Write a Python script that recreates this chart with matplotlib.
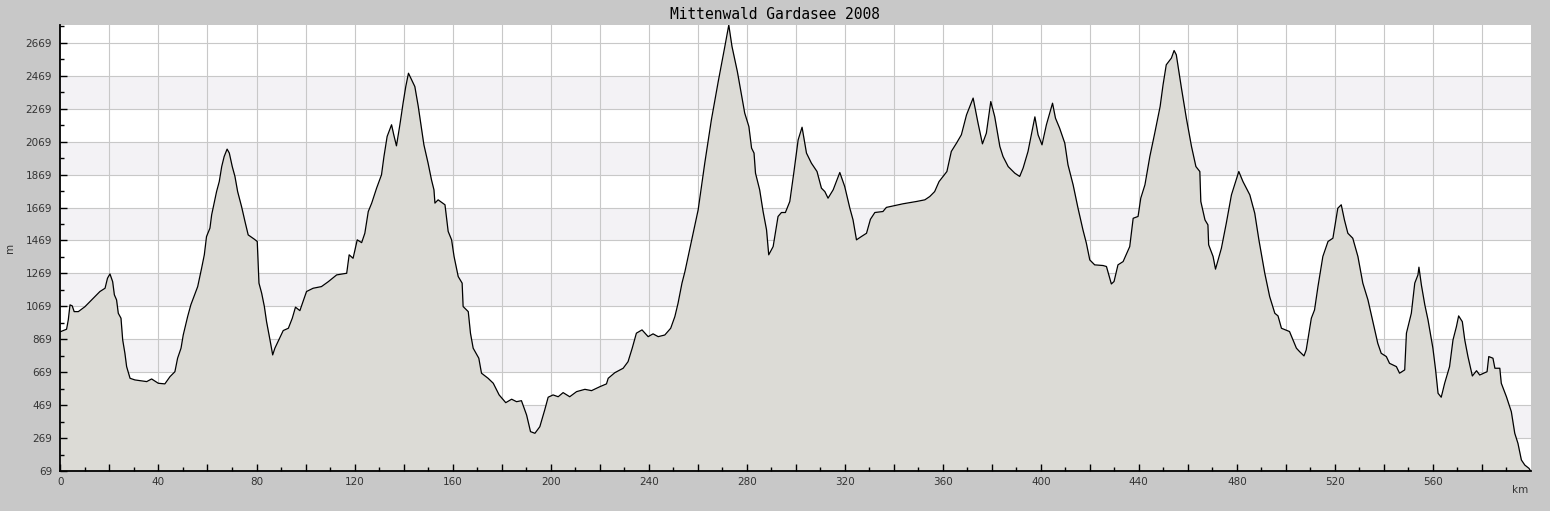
import numpy as np
from matplotlib import pyplot as plt

TITLE = 'Mittenwald Gardasee 2008'

# distance along the route (km) and elevation (m)
km = [
    0, 2.5, 3.2, 3.9, 4.8, 5.6, 7.3, 10, 12.7, 16.1, 18.2, 19.2, 20.2, 21.3, 22,
    22.9, 23.6, 24.7, 25.4, 26.3, 27, 28.4, 30.4, 35.2, 37.2, 39.9, 42.6, 44.7,
    46.7, 47.8, 49.2, 50.1, 51.9, 53.2, 56, 57.6, 58.7, 59.6, 61, 61.7, 63.7,
    64.8, 65.8, 66.8, 68, 68.9, 70.1, 71.2, 72.3, 73.9, 75.3, 76.6, 79.1, 80.3,
    81, 82.1, 83.2, 84.1, 85.5, 86.6, 87.5, 89.1, 90.9, 93, 94.6, 95.9, 97.7,
    99.5, 100.4, 103.1, 106.5, 109.3, 112.7, 116.8, 117.8, 119.4, 121.1, 122.9,
    124.2, 125.6, 127, 129, 131, 132, 133.3, 135.1, 136, 137.1, 138.5, 139.8,
    140.9, 142, 143.3, 144.6, 146, 148.3, 150, 151.4, 152.4, 152.8, 154.1,
    156.9, 158.2, 159.6, 160.6, 162.3, 163.9, 164.3, 166.4, 167.3, 168.4,
    170.7, 171.8, 174.5, 176.6, 179, 181.7, 184.1, 186.1, 188.1, 190.2, 191.8,
    193.6, 195.6, 197.6, 199, 201, 203.1, 205.1, 207.8, 210.6, 214, 216.7,
    220.1, 222.8, 223.5, 226.2, 229.6, 231.6, 233.3, 235, 237.3, 239.8, 241.8,
    243.9, 246.6, 249, 250.7, 252, 253.6, 254.8, 256.4, 257.7, 260.2, 262.9,
    265.6, 268.4, 271.1, 272.7, 274, 276.2, 279.2, 280.9, 282, 283, 283.6,
    285.3, 286.7, 288.1, 289, 290.8, 292.8, 294.2, 295.8, 297.6, 299.3, 301,
    302.6, 304.4, 306.4, 308.7, 310.5, 311.9, 313.2, 315.3, 318, 320, 322.1,
    323.4, 324.8, 326.8, 328.9, 330.5, 332.3, 335.6, 337, 343.8, 349.3, 352.7,
    354.7, 356.7, 358.5, 361.7, 363.5, 365.6, 367.6, 369.7, 372.4, 374.4,
    376.2, 377.8, 379.6, 381.2, 383.3, 384.6, 386.7, 389.4, 391.4, 392.8,
    394.8, 397.6, 398.9, 400.5, 402.3, 404.8, 406, 407.7, 409.8, 411.1, 413.2,
    415.2, 417.2, 418.6, 420, 422, 425.4, 426.8, 428.8, 429.9, 431.5, 433.6,
    436.3, 437.7, 439.7, 440.8, 442.5, 444.5, 446.5, 448.7, 449.9, 451.2,
    453.3, 454.4, 455.3, 457.4, 459.4, 461.5, 463.3, 464.9, 465.3, 467, 468.2,
    468.5, 470.3, 471.3, 473.7, 475.7, 477.8, 480.8, 482.5, 485.3, 487.3, 489,
    491.4, 493.4, 495.5, 496.8, 498.2, 499.2, 501.5, 504.3, 505.6, 507.4,
    508.3, 510.4, 511.7, 513.1, 515.1, 517.2, 519.2, 521.2, 522.6, 523.9,
    525.3, 527.3, 529.4, 531.4, 533.5, 535.5, 537.5, 538.9, 541, 542.3, 545.1,
    546.4, 548.5, 549.2, 551.2, 552.6, 553.9, 554.3, 555.3, 556.7, 558, 560,
    561.1, 562.1, 563.4, 564.8, 566.8, 568.2, 569.6, 570.5, 572, 573, 574.3,
    576.1, 577.8, 579.1, 582.1, 582.8, 584.5, 585.3, 587.3, 587.9, 590, 592,
    593.4, 594.7, 596.1, 597.5, 599.2, 599.8,
]
elev = [
    915, 930, 987, 1078, 1072, 1037, 1037, 1067, 1108, 1159, 1179, 1240, 1266,
    1219, 1139, 1108, 1027, 997, 865, 784, 703, 632, 622, 612, 628, 602, 598,
    642, 672, 754, 815, 895, 1007, 1078, 1189, 1301, 1382, 1493, 1544, 1625,
    1766, 1827, 1918, 1979, 2024, 2000, 1918, 1858, 1766, 1675, 1584, 1503,
    1477, 1463, 1210, 1149, 1068, 976, 865, 774, 815, 865, 922, 936, 997, 1064,
    1043, 1120, 1159, 1179, 1189, 1219, 1260, 1270, 1382, 1361, 1473, 1456,
    1513, 1645, 1696, 1787, 1868, 1979, 2101, 2172, 2111, 2044, 2172, 2303,
    2404, 2485, 2445, 2404, 2283, 2050, 1939, 1837, 1777, 1696, 1716, 1686,
    1524, 1473, 1372, 1250, 1210, 1068, 1037, 906, 815, 754, 663, 632, 602,
    531, 484, 505, 490, 496, 409, 308, 298, 338, 440, 517, 531, 520, 545, 520,
    551, 565, 557, 581, 598, 632, 666, 693, 733, 815, 906, 926, 885, 902, 885,
    895, 936, 1007, 1088, 1210, 1280, 1392, 1483, 1655, 1939, 2202, 2435,
    2648, 2778, 2648, 2495, 2243, 2161, 2030, 2000, 1878, 1777, 1645, 1534,
    1382, 1432, 1615, 1639, 1639, 1706, 1888, 2080, 2157, 2000, 1939, 1888,
    1787, 1766, 1726, 1777, 1882, 1797, 1665, 1594, 1473, 1493, 1513, 1598,
    1639, 1645, 1670, 1692, 1706, 1716, 1736, 1766, 1827, 1888, 2010, 2060,
    2111, 2232, 2334, 2182, 2056, 2121, 2313, 2222, 2040, 1979, 1918, 1878,
    1858, 1909, 2010, 2220, 2111, 2050, 2172, 2303, 2212, 2151, 2060, 1929,
    1807, 1665, 1534, 1453, 1351, 1321, 1317, 1311, 1205, 1220, 1321, 1341,
    1432, 1604, 1615, 1726, 1807, 1979, 2121, 2283, 2415, 2536, 2577, 2623,
    2597, 2394, 2212, 2040, 1918, 1888, 1706, 1594, 1564, 1443, 1372, 1295,
    1422, 1574, 1746, 1888, 1827, 1746, 1635, 1473, 1270, 1128, 1027, 1011,
    936, 930, 916, 815, 794, 768, 804, 997, 1047, 1189, 1372, 1463, 1483, 1665,
    1686, 1594, 1513, 1483, 1372, 1210, 1108, 976, 845, 784, 764, 723, 703,
    663, 683, 906, 1027, 1210, 1260, 1307, 1199, 1078, 987, 815, 683, 541, 517,
    602, 703, 865, 946, 1011, 976, 865, 764, 646, 678, 652, 672, 764, 754, 693,
    693, 602, 520, 429, 298, 237, 136, 105, 85, 71,
]

y_ticks = [69, 269, 469, 669, 869, 1069, 1269, 1469, 1669, 1869, 2069, 2269, 2469, 2669]
x_ticks = [0, 40, 80, 120, 160, 200, 240, 280, 320, 360, 400, 440, 480, 520, 560]

BG = '#c8c8c8'
BAND = '#f3f2f5'
FILL = '#dcdbd6'
GRID = '#c8c8c8'

fig = plt.figure(figsize=(15.5, 5.11), dpi=100, facecolor=BG)
ax = fig.add_axes([0.039, 0.0783, 0.9487, 0.8728])
ax.set_facecolor('white')

ymin, ymax = 69, 2778
ax.set_xlim(0, 600)
ax.set_ylim(ymin, ymax)

# alternating shaded bands between the 200 m gridlines (top one stays white)
for lo in y_ticks[1:-1:2]:
    ax.axhspan(lo, lo + 200, color=BAND, lw=0, zorder=0)

# grid drawn by hand so it stays under the filled profile but ticks stay on top
for v in range(20, 600, 20):
    ax.axvline(v, color=GRID, lw=0.8, zorder=0.5)
for v in y_ticks[1:]:
    ax.axhline(v, color=GRID, lw=0.8, zorder=0.5)

ax.fill_between(km, elev, ymin, color=FILL, lw=0, zorder=1)
ax.plot(km, elev, color='black', lw=0.9, zorder=2)

ax.set_xticks(np.arange(0, 600, 20))
ax.set_xticklabels([str(v) if v in x_ticks else '' for v in range(0, 600, 20)])
ax.set_xticks(np.arange(10, 600, 20), minor=True)
ax.set_yticks(y_ticks)
ax.set_yticks([v + 100 for v in y_ticks], minor=True)

for s in ('top', 'right'):
    ax.spines[s].set_visible(False)
for s in ('left', 'bottom'):
    ax.spines[s].set_linewidth(1.3)
    ax.spines[s].set_zorder(4)

ax.tick_params(which='major', direction='in', length=5, width=1, labelsize=7.5,
               labelcolor='#333333', pad=4)
ax.tick_params(which='minor', direction='in', length=3, width=1)
ax.tick_params(axis='y', which='major', pad=6)

fig.text(0.5, 0.972, TITLE, ha='center', va='center', family='DejaVu Sans Mono',
         fontsize=10.5, color='black')
fig.text(0.0065, 0.515, 'm', rotation=90, ha='center', va='center',
         fontsize=7.5, color='#333333')
fig.text(0.981, 0.041, 'km', ha='center', va='center', fontsize=7.5,
         color='#333333')

fig.savefig('out.png', dpi=100, facecolor=BG)
